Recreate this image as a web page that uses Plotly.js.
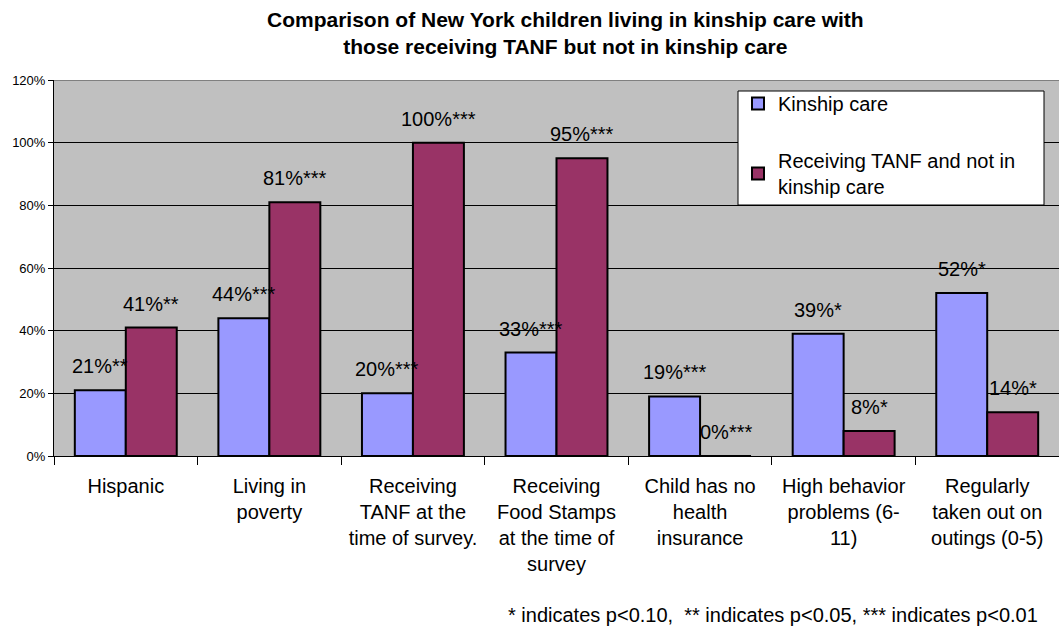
<!DOCTYPE html>
<html>
<head>
<meta charset="utf-8">
<script src="https://cdn.plot.ly/plotly-3.0.1.min.js"></script>
<style>html,body{margin:0;padding:0;background:#fff;}#chart{width:1059px;height:628px;}</style>
</head>
<body>
<div id="chart"></div>
<script>
const categories = [
  "Hispanic",
  "Living in<br>poverty",
  "Receiving<br>TANF at the<br>time of survey.",
  "Receiving<br>Food Stamps<br>at the time of<br>survey",
  "Child has no<br>health<br>insurance",
  "High behavior<br>problems (6-<br>11)",
  "Regularly<br>taken out on<br>outings (0-5)"
];
const kinshipValues = [21, 44, 20, 33, 19, 39, 52];
const tanfValues = [41, 81, 100, 95, 0, 8, 14];
const kinshipLabels = ["21%**", "44%***", "20%***", "33%***", "19%***", "39%*", "52%*"];
const tanfLabels = ["41%**", "81%***", "100%***", "95%***", "0%***", "8%*", "14%*"];
const seriesNames = ["Kinship care", "Receiving TANF and not in<br>kinship care"];
const yTicks = [0, 20, 40, 60, 80, 100, 120];
const yTickText = yTicks.map(v => v + "%");
const titleText = "<b>Comparison of New York children living in kinship care with<br>those receiving TANF but not in kinship care</b>";
const footnoteText = "* indicates p<0.10,  ** indicates p<0.05, *** indicates p<0.01";

const FONT = "Liberation Sans, Arial, sans-serif";

const traces = [
  {
    type: "bar", name: seriesNames[0], x: categories, y: kinshipValues,
    legendgroup: "a",
    marker: {color: "#9999ff", line: {color: "#000000", width: 2}},
    hoverinfo: "skip"
  },
  {
    type: "bar", name: seriesNames[1], x: categories, y: tanfValues,
    legendgroup: "b",
    marker: {color: "#993366", line: {color: "#000000", width: 2}},
    hoverinfo: "skip"
  }
];

const annotations = [];
categories.forEach((c, i) => {
  annotations.push({x: c, y: kinshipValues[i], xref: "x", yref: "y", text: kinshipLabels[i],
    showarrow: false, xshift: -25.5, yshift: 24, yanchor: "middle",
    font: {family: FONT, size: 20, color: "#000"}});
  annotations.push({x: c, y: tanfValues[i], xref: "x", yref: "y", text: tanfLabels[i],
    showarrow: false, xshift: 25.5, yshift: 24, yanchor: "middle",
    font: {family: FONT, size: 20, color: "#000"}});
});
annotations.push({
  xref: "paper", yref: "paper", x: (506 - 54) / 1005, y: -0.423, xanchor: "left", yanchor: "middle",
  text: footnoteText,
  showarrow: false, font: {family: FONT, size: 20, color: "#000"}
});
annotations.push({
  xref: "paper", yref: "paper", x: (565 - 54) / 1005, y: (456 - 33) / 376,
  xanchor: "center", yanchor: "middle",
  text: titleText,
  showarrow: false, font: {family: FONT, size: 21, color: "#000"}
});

const layout = {
  width: 1059, height: 628,
  margin: {l: 54, r: 0, t: 80, b: 172},
  paper_bgcolor: "#ffffff",
  plot_bgcolor: "#c0c0c0",
  barmode: "group",
  bargap: 0.29,
  bargroupgap: 0,
  font: {family: FONT, size: 20, color: "#000"},
  xaxis: {
    type: "category",
    tickson: "boundaries",
    ticks: "outside", ticklen: 8, tickcolor: "#000", tickwidth: 1,
    ticklabelstandoff: 12,
    showline: true, linecolor: "#000", linewidth: 1,
    showgrid: false,
    tickfont: {family: FONT, size: 20, color: "#000"},
    fixedrange: true
  },
  yaxis: {
    range: [0, 120],
    tickmode: "array",
    tickvals: yTicks,
    ticktext: yTickText,
    ticks: "outside", ticklen: 5, tickcolor: "#000",
    showline: true, linecolor: "#000", linewidth: 1,
    showgrid: true, gridcolor: "#000", gridwidth: 1,
    zeroline: false,
    tickfont: {family: FONT, size: 13, color: "#000"},
    fixedrange: true
  },
  shapes: [
    {type: "line", xref: "paper", yref: "y", x0: 0, x1: 1, y0: 120, y1: 120,
      line: {color: "#808080", width: 2}},
    {type: "rect", xref: "paper", yref: "paper", layer: "above",
      x0: (738 - 54) / 1005, x1: (1044 - 54) / 1005,
      y0: (456 - 205) / 376, y1: (456 - 91) / 376,
      fillcolor: "#ffffff", line: {color: "#000", width: 1}}
  ],
  legend: {
    x: (738 - 54) / 1005, y: (456 - 84) / 376, xanchor: "left", yanchor: "top",
    bgcolor: "rgba(0,0,0,0)", borderwidth: 0,
    traceorder: "grouped", tracegroupgap: 28,
    font: {family: FONT, size: 20, color: "#000"}
  },
  annotations: annotations,
  showlegend: true
};

Plotly.newPlot("chart", traces, layout, {displayModeBar: false, staticPlot: true});
</script>
</body>
</html>
